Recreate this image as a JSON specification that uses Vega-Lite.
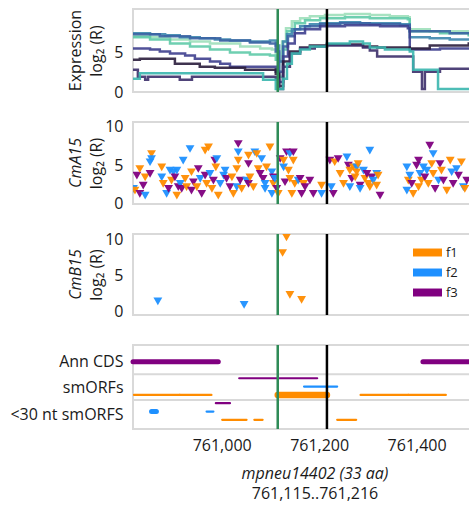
{
  "$schema": "https://vega.github.io/schema/vega-lite/v6.json",
  "padding": {"left": 8, "top": 6, "right": 0, "bottom": 4},
  "spacing": 30,
  "bounds": "flush",
  "config": {
    "font": "Open Sans",
    "view": {"stroke": "#d9d9d9", "strokeWidth": 2},
    "axis": {"grid": false, "ticks": false, "domain": false, "labelFontSize": 16, "labelColor": "#1a1a1a", "titleFontSize": 16, "titleFontWeight": "normal", "titleColor": "#1a1a1a", "labelPadding": 10, "labelFlush": false},
    "title": {"fontSize": 16, "fontWeight": "normal", "color": "#1a1a1a", "subtitleFontSize": 16, "subtitleColor": "#1a1a1a"}
  },
  "resolve": {"scale": {"x": "independent", "y": "independent", "color": "independent"}, "legend": {"color": "independent"}},
  "datasets": {
    "markers": [{"pos": 761115, "edge": "start"}, {"pos": 761216, "edge": "end"}],
    "expr": [
      {"series": "s1", "pos": 760818, "log2r": 7.11}, {"series": "s1", "pos": 760853, "log2r": 6.98}, {"series": "s1", "pos": 760894, "log2r": 6.72}, {"series": "s1", "pos": 760935, "log2r": 6.46}, {"series": "s1", "pos": 760976, "log2r": 6.2}, {"series": "s1", "pos": 761038, "log2r": 5.81}, {"series": "s1", "pos": 761079, "log2r": 5.56}, {"series": "s1", "pos": 761103, "log2r": 5.43}, {"series": "s1", "pos": 761111, "log2r": 4.91}, {"series": "s1", "pos": 761118, "log2r": 3.88}, {"series": "s1", "pos": 761124, "log2r": 6.46}, {"series": "s1", "pos": 761132, "log2r": 8.14}, {"series": "s1", "pos": 761144, "log2r": 9.04}, {"series": "s1", "pos": 761161, "log2r": 9.43}, {"series": "s1", "pos": 761181, "log2r": 9.69}, {"series": "s1", "pos": 761212, "log2r": 9.82}, {"series": "s1", "pos": 761253, "log2r": 9.95}, {"series": "s1", "pos": 761304, "log2r": 9.82}, {"series": "s1", "pos": 761345, "log2r": 9.69}, {"series": "s1", "pos": 761382, "log2r": 9.56}, {"series": "s1", "pos": 761386, "log2r": 8.01}, {"series": "s1", "pos": 761427, "log2r": 7.75}, {"series": "s1", "pos": 761507, "log2r": 7.36}, {"series": "s1", "pos": 761565, "log2r": 7.36},
      {"series": "s2", "pos": 760818, "log2r": 6.98}, {"series": "s2", "pos": 760853, "log2r": 6.72}, {"series": "s2", "pos": 760894, "log2r": 6.2}, {"series": "s2", "pos": 760935, "log2r": 5.81}, {"series": "s2", "pos": 760976, "log2r": 5.43}, {"series": "s2", "pos": 761017, "log2r": 5.04}, {"series": "s2", "pos": 761058, "log2r": 4.78}, {"series": "s2", "pos": 761099, "log2r": 4.65}, {"series": "s2", "pos": 761111, "log2r": 4.13}, {"series": "s2", "pos": 761118, "log2r": 1.94}, {"series": "s2", "pos": 761126, "log2r": 5.43}, {"series": "s2", "pos": 761134, "log2r": 7.75}, {"series": "s2", "pos": 761150, "log2r": 8.79}, {"series": "s2", "pos": 761171, "log2r": 9.17}, {"series": "s2", "pos": 761202, "log2r": 9.43}, {"series": "s2", "pos": 761253, "log2r": 9.56}, {"series": "s2", "pos": 761304, "log2r": 9.43}, {"series": "s2", "pos": 761382, "log2r": 9.3}, {"series": "s2", "pos": 761386, "log2r": 7.75}, {"series": "s2", "pos": 761448, "log2r": 7.49}, {"series": "s2", "pos": 761507, "log2r": 7.24}, {"series": "s2", "pos": 761565, "log2r": 7.24},
      {"series": "s3", "pos": 760818, "log2r": 7.49}, {"series": "s3", "pos": 760853, "log2r": 7.36}, {"series": "s3", "pos": 760884, "log2r": 7.24}, {"series": "s3", "pos": 760914, "log2r": 6.98}, {"series": "s3", "pos": 760955, "log2r": 6.85}, {"series": "s3", "pos": 760986, "log2r": 6.72}, {"series": "s3", "pos": 761017, "log2r": 6.59}, {"series": "s3", "pos": 761058, "log2r": 6.46}, {"series": "s3", "pos": 761099, "log2r": 6.59}, {"series": "s3", "pos": 761111, "log2r": 5.94}, {"series": "s3", "pos": 761118, "log2r": 3.88}, {"series": "s3", "pos": 761126, "log2r": 6.46}, {"series": "s3", "pos": 761134, "log2r": 7.36}, {"series": "s3", "pos": 761144, "log2r": 8.01}, {"series": "s3", "pos": 761161, "log2r": 8.4}, {"series": "s3", "pos": 761181, "log2r": 8.66}, {"series": "s3", "pos": 761202, "log2r": 8.79}, {"series": "s3", "pos": 761243, "log2r": 8.91}, {"series": "s3", "pos": 761284, "log2r": 8.79}, {"series": "s3", "pos": 761366, "log2r": 8.66}, {"series": "s3", "pos": 761386, "log2r": 6.98}, {"series": "s3", "pos": 761427, "log2r": 6.85}, {"series": "s3", "pos": 761468, "log2r": 6.72}, {"series": "s3", "pos": 761565, "log2r": 6.72},
      {"series": "s4", "pos": 760818, "log2r": 7.36}, {"series": "s4", "pos": 760873, "log2r": 7.11}, {"series": "s4", "pos": 760935, "log2r": 6.85}, {"series": "s4", "pos": 760997, "log2r": 6.59}, {"series": "s4", "pos": 761058, "log2r": 6.33}, {"series": "s4", "pos": 761099, "log2r": 6.2}, {"series": "s4", "pos": 761111, "log2r": 5.17}, {"series": "s4", "pos": 761118, "log2r": 2.58}, {"series": "s4", "pos": 761126, "log2r": 5.81}, {"series": "s4", "pos": 761136, "log2r": 7.11}, {"series": "s4", "pos": 761150, "log2r": 8.01}, {"series": "s4", "pos": 761171, "log2r": 8.4}, {"series": "s4", "pos": 761202, "log2r": 8.66}, {"series": "s4", "pos": 761243, "log2r": 8.79}, {"series": "s4", "pos": 761304, "log2r": 8.66}, {"series": "s4", "pos": 761366, "log2r": 8.53}, {"series": "s4", "pos": 761386, "log2r": 7.75}, {"series": "s4", "pos": 761468, "log2r": 7.49}, {"series": "s4", "pos": 761565, "log2r": 7.49},
      {"series": "s5", "pos": 760818, "log2r": 5.56}, {"series": "s5", "pos": 760853, "log2r": 5.43}, {"series": "s5", "pos": 760873, "log2r": 5.17}, {"series": "s5", "pos": 760894, "log2r": 4.91}, {"series": "s5", "pos": 760925, "log2r": 4.65}, {"series": "s5", "pos": 760945, "log2r": 4.26}, {"series": "s5", "pos": 760976, "log2r": 3.88}, {"series": "s5", "pos": 760997, "log2r": 3.62}, {"series": "s5", "pos": 761017, "log2r": 3.23}, {"series": "s5", "pos": 761099, "log2r": 3.23}, {"series": "s5", "pos": 761111, "log2r": 2.58}, {"series": "s5", "pos": 761118, "log2r": 1.29}, {"series": "s5", "pos": 761126, "log2r": 4.52}, {"series": "s5", "pos": 761136, "log2r": 6.2}, {"series": "s5", "pos": 761150, "log2r": 7.49}, {"series": "s5", "pos": 761171, "log2r": 8.01}, {"series": "s5", "pos": 761202, "log2r": 8.4}, {"series": "s5", "pos": 761253, "log2r": 8.53}, {"series": "s5", "pos": 761325, "log2r": 8.4}, {"series": "s5", "pos": 761382, "log2r": 8.14}, {"series": "s5", "pos": 761386, "log2r": 5.43}, {"series": "s5", "pos": 761448, "log2r": 5.56}, {"series": "s5", "pos": 761565, "log2r": 5.56},
      {"series": "s6", "pos": 760818, "log2r": 4.13}, {"series": "s6", "pos": 760832, "log2r": 4.26}, {"series": "s6", "pos": 760904, "log2r": 3.62}, {"series": "s6", "pos": 760955, "log2r": 3.23}, {"series": "s6", "pos": 760986, "log2r": 3.1}, {"series": "s6", "pos": 761048, "log2r": 2.84}, {"series": "s6", "pos": 761099, "log2r": 2.84}, {"series": "s6", "pos": 761111, "log2r": 2.33}, {"series": "s6", "pos": 761118, "log2r": 0.78}, {"series": "s6", "pos": 761126, "log2r": 3.88}, {"series": "s6", "pos": 761140, "log2r": 5.17}, {"series": "s6", "pos": 761161, "log2r": 5.68}, {"series": "s6", "pos": 761181, "log2r": 5.94}, {"series": "s6", "pos": 761216, "log2r": 6.07}, {"series": "s6", "pos": 761263, "log2r": 6.07}, {"series": "s6", "pos": 761290, "log2r": 5.81}, {"series": "s6", "pos": 761319, "log2r": 5.68}, {"series": "s6", "pos": 761386, "log2r": 5.56}, {"series": "s6", "pos": 761427, "log2r": 5.94}, {"series": "s6", "pos": 761507, "log2r": 6.2}, {"series": "s6", "pos": 761565, "log2r": 6.2},
      {"series": "s7", "pos": 760818, "log2r": 2.84}, {"series": "s7", "pos": 760828, "log2r": 1.94}, {"series": "s7", "pos": 760843, "log2r": 1.55}, {"series": "s7", "pos": 760849, "log2r": 1.94}, {"series": "s7", "pos": 760914, "log2r": 1.55}, {"series": "s7", "pos": 760939, "log2r": 1.94}, {"series": "s7", "pos": 761079, "log2r": 1.94}, {"series": "s7", "pos": 761111, "log2r": 1.55}, {"series": "s7", "pos": 761118, "log2r": 0.39}, {"series": "s7", "pos": 761126, "log2r": 3.23}, {"series": "s7", "pos": 761140, "log2r": 4.91}, {"series": "s7", "pos": 761161, "log2r": 5.56}, {"series": "s7", "pos": 761191, "log2r": 5.81}, {"series": "s7", "pos": 761216, "log2r": 5.94}, {"series": "s7", "pos": 761263, "log2r": 5.94}, {"series": "s7", "pos": 761290, "log2r": 5.68}, {"series": "s7", "pos": 761304, "log2r": 5.3}, {"series": "s7", "pos": 761319, "log2r": 4.52}, {"series": "s7", "pos": 761386, "log2r": 4.52}, {"series": "s7", "pos": 761393, "log2r": 2.58}, {"series": "s7", "pos": 761411, "log2r": 0.39}, {"series": "s7", "pos": 761417, "log2r": 2.58}, {"series": "s7", "pos": 761448, "log2r": 2.97}, {"series": "s7", "pos": 761565, "log2r": 2.97},
      {"series": "s8", "pos": 760818, "log2r": 1.68}, {"series": "s8", "pos": 760832, "log2r": 2.4}, {"series": "s8", "pos": 761085, "log2r": 1.55}, {"series": "s8", "pos": 761111, "log2r": 0.39}, {"series": "s8", "pos": 761126, "log2r": 1.68}, {"series": "s8", "pos": 761134, "log2r": 3.62}, {"series": "s8", "pos": 761144, "log2r": 4.91}, {"series": "s8", "pos": 761161, "log2r": 5.43}, {"series": "s8", "pos": 761181, "log2r": 5.81}, {"series": "s8", "pos": 761216, "log2r": 6.2}, {"series": "s8", "pos": 761263, "log2r": 6.46}, {"series": "s8", "pos": 761290, "log2r": 6.2}, {"series": "s8", "pos": 761304, "log2r": 5.68}, {"series": "s8", "pos": 761335, "log2r": 5.43}, {"series": "s8", "pos": 761386, "log2r": 5.17}, {"series": "s8", "pos": 761393, "log2r": 2.84}, {"series": "s8", "pos": 761444, "log2r": 0.39}, {"series": "s8", "pos": 761565, "log2r": 0.39}
    ],
    "cma15": [
      {"pos": 760819, "log2r": 1.88, "frame": "f2"}, {"pos": 760822, "log2r": 1.66, "frame": "f1"}, {"pos": 760826, "log2r": 3.62, "frame": "f3"}, {"pos": 760832, "log2r": 4.49, "frame": "f1"}, {"pos": 760832, "log2r": 1.22, "frame": "f3"}, {"pos": 760839, "log2r": 2.31, "frame": "f3"}, {"pos": 760843, "log2r": 3.4, "frame": "f1"}, {"pos": 760843, "log2r": 1.0, "frame": "f2"}, {"pos": 760853, "log2r": 3.84, "frame": "f3"}, {"pos": 760856, "log2r": 6.46, "frame": "f1"}, {"pos": 760856, "log2r": 5.8, "frame": "f2"}, {"pos": 760853, "log2r": 5.37, "frame": "f2"}, {"pos": 760877, "log2r": 4.71, "frame": "f1"}, {"pos": 760877, "log2r": 3.4, "frame": "f2"}, {"pos": 760880, "log2r": 2.53, "frame": "f1"}, {"pos": 760887, "log2r": 1.22, "frame": "f2"}, {"pos": 760891, "log2r": 1.88, "frame": "f3"}, {"pos": 760894, "log2r": 4.28, "frame": "f2"}, {"pos": 760897, "log2r": 2.97, "frame": "f1"}, {"pos": 760901, "log2r": 4.06, "frame": "f2"}, {"pos": 760904, "log2r": 3.4, "frame": "f3"}, {"pos": 760908, "log2r": 4.28, "frame": "f2"}, {"pos": 760911, "log2r": 2.12, "frame": "f3"}, {"pos": 760908, "log2r": 1.0, "frame": "f1"}, {"pos": 760915, "log2r": 2.53, "frame": "f2"}, {"pos": 760918, "log2r": 1.88, "frame": "f3"}, {"pos": 760921, "log2r": 5.58, "frame": "f2"}, {"pos": 760925, "log2r": 3.19, "frame": "f1"}, {"pos": 760928, "log2r": 2.12, "frame": "f1"}, {"pos": 760935, "log2r": 7.11, "frame": "f2"}, {"pos": 760938, "log2r": 4.06, "frame": "f1"}, {"pos": 760938, "log2r": 1.66, "frame": "f3"}, {"pos": 760942, "log2r": 2.75, "frame": "f3"}, {"pos": 760949, "log2r": 2.12, "frame": "f1"}, {"pos": 760952, "log2r": 4.49, "frame": "f3"}, {"pos": 760956, "log2r": 3.19, "frame": "f2"}, {"pos": 760959, "log2r": 1.22, "frame": "f3"}, {"pos": 760966, "log2r": 6.89, "frame": "f1"}, {"pos": 760973, "log2r": 7.33, "frame": "f1"}, {"pos": 760966, "log2r": 3.62, "frame": "f3"}, {"pos": 760969, "log2r": 2.53, "frame": "f1"}, {"pos": 760976, "log2r": 3.84, "frame": "f2"}, {"pos": 760980, "log2r": 1.88, "frame": "f1"}, {"pos": 760983, "log2r": 2.97, "frame": "f3"}, {"pos": 760986, "log2r": 5.58, "frame": "f3"}, {"pos": 760990, "log2r": 5.8, "frame": "f2"}, {"pos": 760988, "log2r": 4.71, "frame": "f1"}, {"pos": 760993, "log2r": 1.0, "frame": "f1"}, {"pos": 760997, "log2r": 2.53, "frame": "f2"}, {"pos": 761004, "log2r": 3.62, "frame": "f2"}, {"pos": 761007, "log2r": 4.28, "frame": "f2"}, {"pos": 761010, "log2r": 3.19, "frame": "f3"}, {"pos": 761017, "log2r": 2.12, "frame": "f3"}, {"pos": 761021, "log2r": 3.4, "frame": "f1"}, {"pos": 761024, "log2r": 1.22, "frame": "f1"}, {"pos": 761031, "log2r": 4.49, "frame": "f1"}, {"pos": 761031, "log2r": 2.12, "frame": "f2"}, {"pos": 761034, "log2r": 7.77, "frame": "f3"}, {"pos": 761034, "log2r": 6.68, "frame": "f2"}, {"pos": 761034, "log2r": 5.58, "frame": "f1"}, {"pos": 761038, "log2r": 2.97, "frame": "f3"}, {"pos": 761041, "log2r": 1.88, "frame": "f1"},
      {"pos": 761055, "log2r": 6.24, "frame": "f1"}, {"pos": 761055, "log2r": 5.15, "frame": "f3"}, {"pos": 761051, "log2r": 2.97, "frame": "f2"}, {"pos": 761055, "log2r": 2.53, "frame": "f3"}, {"pos": 761058, "log2r": 3.4, "frame": "f1"}, {"pos": 761068, "log2r": 6.68, "frame": "f2"}, {"pos": 761072, "log2r": 6.46, "frame": "f1"}, {"pos": 761065, "log2r": 2.12, "frame": "f1"}, {"pos": 761075, "log2r": 4.49, "frame": "f1"}, {"pos": 761079, "log2r": 3.84, "frame": "f3"}, {"pos": 761082, "log2r": 5.8, "frame": "f2"}, {"pos": 761085, "log2r": 3.19, "frame": "f3"}, {"pos": 761089, "log2r": 2.53, "frame": "f2"}, {"pos": 761089, "log2r": 1.88, "frame": "f2"}, {"pos": 761092, "log2r": 4.71, "frame": "f1"}, {"pos": 761099, "log2r": 7.33, "frame": "f1"}, {"pos": 761103, "log2r": 1.22, "frame": "f2"}, {"pos": 761103, "log2r": 4.06, "frame": "f2"}, {"pos": 761106, "log2r": 2.53, "frame": "f1"}, {"pos": 761106, "log2r": 3.4, "frame": "f3"}, {"pos": 761109, "log2r": 3.19, "frame": "f2"}, {"pos": 761113, "log2r": 1.88, "frame": "f3"}, {"pos": 761116, "log2r": 1.22, "frame": "f1"}, {"pos": 761120, "log2r": 5.8, "frame": "f3"}, {"pos": 761127, "log2r": 4.71, "frame": "f2"}, {"pos": 761127, "log2r": 5.58, "frame": "f1"}, {"pos": 761130, "log2r": 2.75, "frame": "f3"}, {"pos": 761133, "log2r": 6.68, "frame": "f3"}, {"pos": 761140, "log2r": 6.46, "frame": "f2"}, {"pos": 761137, "log2r": 4.28, "frame": "f1"}, {"pos": 761140, "log2r": 3.19, "frame": "f1"}, {"pos": 761144, "log2r": 1.22, "frame": "f1"}, {"pos": 761147, "log2r": 6.68, "frame": "f3"}, {"pos": 761147, "log2r": 5.58, "frame": "f1"}, {"pos": 761150, "log2r": 2.53, "frame": "f1"}, {"pos": 761157, "log2r": 2.97, "frame": "f2"}, {"pos": 761161, "log2r": 3.19, "frame": "f3"}, {"pos": 761164, "log2r": 1.22, "frame": "f3"}, {"pos": 761168, "log2r": 2.53, "frame": "f1"}, {"pos": 761171, "log2r": 2.12, "frame": "f3"}, {"pos": 761181, "log2r": 2.97, "frame": "f3"}, {"pos": 761188, "log2r": 1.22, "frame": "f3"}, {"pos": 761205, "log2r": 2.31, "frame": "f1"}, {"pos": 761205, "log2r": 1.22, "frame": "f2"}, {"pos": 761222, "log2r": 5.58, "frame": "f3"}, {"pos": 761229, "log2r": 1.22, "frame": "f3"}, {"pos": 761225, "log2r": 2.12, "frame": "f2"}, {"pos": 761232, "log2r": 5.37, "frame": "f1"}, {"pos": 761239, "log2r": 5.8, "frame": "f3"}, {"pos": 761243, "log2r": 3.84, "frame": "f1"}, {"pos": 761250, "log2r": 2.53, "frame": "f1"}, {"pos": 761257, "log2r": 6.02, "frame": "f2"}, {"pos": 761260, "log2r": 4.93, "frame": "f3"}, {"pos": 761263, "log2r": 4.28, "frame": "f1"}, {"pos": 761267, "log2r": 3.19, "frame": "f3"}, {"pos": 761263, "log2r": 2.12, "frame": "f2"}, {"pos": 761270, "log2r": 4.71, "frame": "f1"},
      {"pos": 761274, "log2r": 3.4, "frame": "f1"}, {"pos": 761277, "log2r": 4.71, "frame": "f2"}, {"pos": 761277, "log2r": 4.06, "frame": "f1"}, {"pos": 761280, "log2r": 5.15, "frame": "f1"}, {"pos": 761284, "log2r": 2.31, "frame": "f3"}, {"pos": 761284, "log2r": 1.88, "frame": "f2"}, {"pos": 761291, "log2r": 4.28, "frame": "f2"}, {"pos": 761294, "log2r": 3.19, "frame": "f1"}, {"pos": 761298, "log2r": 3.84, "frame": "f3"}, {"pos": 761301, "log2r": 2.53, "frame": "f1"}, {"pos": 761304, "log2r": 6.89, "frame": "f2"}, {"pos": 761304, "log2r": 2.12, "frame": "f1"}, {"pos": 761308, "log2r": 3.4, "frame": "f3"}, {"pos": 761311, "log2r": 2.97, "frame": "f2"}, {"pos": 761318, "log2r": 3.84, "frame": "f2"}, {"pos": 761318, "log2r": 2.31, "frame": "f1"}, {"pos": 761325, "log2r": 1.0, "frame": "f3"}, {"pos": 761321, "log2r": 3.62, "frame": "f1"}, {"pos": 761380, "log2r": 4.71, "frame": "f2"}, {"pos": 761380, "log2r": 1.66, "frame": "f2"}, {"pos": 761383, "log2r": 2.97, "frame": "f1"}, {"pos": 761386, "log2r": 3.62, "frame": "f2"}, {"pos": 761390, "log2r": 2.53, "frame": "f3"}, {"pos": 761393, "log2r": 1.22, "frame": "f1"}, {"pos": 761400, "log2r": 4.93, "frame": "f3"}, {"pos": 761404, "log2r": 5.58, "frame": "f3"}, {"pos": 761404, "log2r": 2.12, "frame": "f1"}, {"pos": 761407, "log2r": 3.84, "frame": "f2"}, {"pos": 761410, "log2r": 2.97, "frame": "f1"}, {"pos": 761414, "log2r": 4.71, "frame": "f2"}, {"pos": 761417, "log2r": 3.4, "frame": "f3"}, {"pos": 761421, "log2r": 4.28, "frame": "f2"}, {"pos": 761424, "log2r": 2.53, "frame": "f1"}, {"pos": 761427, "log2r": 7.55, "frame": "f3"}, {"pos": 761431, "log2r": 5.15, "frame": "f1"}, {"pos": 761434, "log2r": 6.46, "frame": "f2"}, {"pos": 761434, "log2r": 3.84, "frame": "f1"}, {"pos": 761438, "log2r": 1.88, "frame": "f3"}, {"pos": 761445, "log2r": 2.97, "frame": "f2"}, {"pos": 761448, "log2r": 5.15, "frame": "f3"}, {"pos": 761451, "log2r": 4.28, "frame": "f1"}, {"pos": 761455, "log2r": 2.97, "frame": "f3"}, {"pos": 761462, "log2r": 1.66, "frame": "f1"}, {"pos": 761469, "log2r": 5.58, "frame": "f1"}, {"pos": 761472, "log2r": 4.06, "frame": "f2"}, {"pos": 761475, "log2r": 2.53, "frame": "f3"}, {"pos": 761482, "log2r": 4.49, "frame": "f2"}, {"pos": 761486, "log2r": 3.62, "frame": "f3"}, {"pos": 761492, "log2r": 5.37, "frame": "f1"}, {"pos": 761496, "log2r": 2.12, "frame": "f2"}, {"pos": 761499, "log2r": 1.88, "frame": "f1"}, {"pos": 761503, "log2r": 2.97, "frame": "f3"}
    ],
    "cmb15": [
      {"pos": 760869, "log2r": 1.38, "frame": "f2"}, {"pos": 761046, "log2r": 0.91, "frame": "f2"}, {"pos": 761133, "log2r": 10.23, "frame": "f1"}, {"pos": 761125, "log2r": 8.07, "frame": "f1"}, {"pos": 761140, "log2r": 2.29, "frame": "f1"}, {"pos": 761164, "log2r": 1.6, "frame": "f1"}
    ],
    "tracks": [
      {"track": "Ann CDS", "frame": "f3", "lane": 8, "start": 760818, "end": 760993, "kind": "cds"},
      {"track": "Ann CDS", "frame": "f3", "lane": 8, "start": 761413, "end": 761565, "kind": "cds"},
      {"track": "smORFs", "frame": "f3", "lane": 6, "start": 761036, "end": 761196, "kind": "orf"},
      {"track": "smORFs", "frame": "f2", "lane": 5, "start": 761169, "end": 761237, "kind": "orf"},
      {"track": "smORFs", "frame": "f1", "lane": 4, "start": 760820, "end": 760914, "kind": "orf"},
      {"track": "smORFs", "frame": "f1", "lane": 4, "start": 760914, "end": 760979, "kind": "orf"},
      {"track": "smORFs", "frame": "f1", "lane": 4, "start": 761115, "end": 761216, "kind": "focus"},
      {"track": "smORFs", "frame": "f1", "lane": 4, "start": 761285, "end": 761383, "kind": "orf"},
      {"track": "smORFs", "frame": "f1", "lane": 4, "start": 761383, "end": 761460, "kind": "orf"},
      {"track": "<30 nt smORFs", "frame": "f3", "lane": 3, "start": 760988, "end": 761017, "kind": "orf"},
      {"track": "<30 nt smORFs", "frame": "f2", "lane": 2, "start": 760856, "end": 760866, "kind": "dot"},
      {"track": "<30 nt smORFs", "frame": "f2", "lane": 2, "start": 760969, "end": 760983, "kind": "orf"},
      {"track": "<30 nt smORFs", "frame": "f1", "lane": 1, "start": 761001, "end": 761051, "kind": "orf"},
      {"track": "<30 nt smORFs", "frame": "f1", "lane": 1, "start": 761067, "end": 761084, "kind": "orf"},
      {"track": "<30 nt smORFs", "frame": "f1", "lane": 1, "start": 761237, "end": 761276, "kind": "orf"}
    ]
  },
  "vconcat": [
    {
      "width": 364, "height": 83,
      "title": {"text": "Expression", "orient": "left", "anchor": "middle", "offset": 4},
      "layer": [
        {
          "data": {"name": "expr"},
          "mark": {"type": "line", "interpolate": "step-after", "strokeWidth": 2.5, "opacity": 0.9, "clip": true},
          "encoding": {
            "x": {"field": "pos", "type": "quantitative", "scale": {"domain": [760818, 761565], "nice": false, "zero": false}, "axis": null},
            "y": {"field": "log2r", "type": "quantitative", "scale": {"domain": [0, 10.6], "nice": false, "zero": false}, "axis": {"values": [0, 5], "title": "log₂ (R)", "titleX": -29}},
            "color": {"field": "series", "type": "nominal", "scale": {"domain": ["s1", "s2", "s3", "s4", "s5", "s6", "s7", "s8"], "range": ["#9ddfba", "#5fcaa9", "#3b86ad", "#3b63a3", "#3e3f8e", "#2a1d3c", "#3c2f6a", "#3ab6ae"]}, "legend": null}
          }
        },
        {
          "data": {"name": "markers"},
          "transform": [{"filter": "datum.edge == 'start'"}],
          "mark": {"type": "rule", "color": "#2e8b57", "strokeWidth": 2.5},
          "encoding": {"x": {"field": "pos", "type": "quantitative", "axis": null}}
        },
        {
          "data": {"name": "markers"},
          "transform": [{"filter": "datum.edge == 'end'"}],
          "mark": {"type": "rule", "color": "#000000", "strokeWidth": 2.5},
          "encoding": {"x": {"field": "pos", "type": "quantitative", "axis": null}}
        }
      ]
    },
    {
      "width": 364, "height": 82,
      "title": {"text": "CmA15", "orient": "left", "anchor": "middle", "fontStyle": "italic", "offset": 4},
      "layer": [
        {
          "data": {"name": "cma15"},
          "mark": {"type": "point", "shape": "triangle-down", "filled": true, "size": 78, "opacity": 0.95, "clip": true},
          "encoding": {
            "x": {"field": "pos", "type": "quantitative", "scale": {"domain": [760818, 761565], "nice": false, "zero": false}, "axis": null},
            "y": {"field": "log2r", "type": "quantitative", "scale": {"domain": [-0.1, 10.65], "nice": false, "zero": false}, "axis": {"values": [0, 5, 10], "title": "log₂ (R)", "titleX": -29}},
            "color": {"field": "frame", "type": "nominal", "scale": {"domain": ["f1", "f2", "f3"], "range": ["#ff8c00", "#1e90ff", "#800080"]}, "legend": null}
          }
        },
        {
          "data": {"name": "markers"},
          "transform": [{"filter": "datum.edge == 'start'"}],
          "mark": {"type": "rule", "color": "#2e8b57", "strokeWidth": 2.5},
          "encoding": {"x": {"field": "pos", "type": "quantitative", "axis": null}}
        },
        {
          "data": {"name": "markers"},
          "transform": [{"filter": "datum.edge == 'end'"}],
          "mark": {"type": "rule", "color": "#000000", "strokeWidth": 2.5},
          "encoding": {"x": {"field": "pos", "type": "quantitative", "axis": null}}
        }
      ]
    },
    {
      "width": 364, "height": 81,
      "title": {"text": "CmB15", "orient": "left", "anchor": "middle", "fontStyle": "italic", "offset": 4},
      "layer": [
        {
          "data": {"name": "cmb15"},
          "mark": {"type": "point", "shape": "triangle-down", "filled": true, "size": 78, "opacity": 0.95, "clip": true},
          "encoding": {
            "x": {"field": "pos", "type": "quantitative", "scale": {"domain": [760818, 761565], "nice": false, "zero": false}, "axis": null},
            "y": {"field": "log2r", "type": "quantitative", "scale": {"domain": [-0.5, 10.7], "nice": false, "zero": false}, "axis": {"values": [0, 5, 10], "title": "log₂ (R)", "titleX": -29}},
            "color": {"field": "frame", "type": "nominal", "scale": {"domain": ["f1", "f2", "f3"], "range": ["#ff8c00", "#1e90ff", "#800080"]},
              "legend": {"orient": "none", "legendX": 287, "legendY": 11, "title": null, "symbolType": "M-2,-0.55H2V0.55H-2Z", "symbolSize": 210, "symbolStrokeWidth": 0, "symbolOpacity": 1, "labelFontSize": 13, "labelColor": "#1a1a1a", "labelOffset": 11, "rowPadding": 5}}
          }
        },
        {
          "data": {"name": "markers"},
          "transform": [{"filter": "datum.edge == 'start'"}],
          "mark": {"type": "rule", "color": "#2e8b57", "strokeWidth": 2.5},
          "encoding": {"x": {"field": "pos", "type": "quantitative", "axis": null}}
        },
        {
          "data": {"name": "markers"},
          "transform": [{"filter": "datum.edge == 'end'"}],
          "mark": {"type": "rule", "color": "#000000", "strokeWidth": 2.5},
          "encoding": {"x": {"field": "pos", "type": "quantitative", "axis": null}}
        }
      ]
    },
    {
      "width": 364, "height": 84,
      "title": {"text": "mpneu14402 (33 aa)", "subtitle": "761,115..761,216", "orient": "bottom", "anchor": "middle", "frame": "group", "fontStyle": "italic", "offset": 13, "subtitlePadding": 4},
      "encoding": {
        "x": {"type": "quantitative", "scale": {"domain": [760818, 761565], "nice": false, "zero": false}, "axis": {"values": [761000, 761200, 761400], "title": null, "format": ",d", "labelPadding": 8}}
      },
      "layer": [
        {
          "data": {"values": [{}]},
          "mark": {"type": "rule", "color": "#d9d9d9", "strokeWidth": 2},
          "encoding": {"x": null, "y": {"datum": 3.38, "type": "quantitative"}}
        },
        {
          "data": {"values": [{}]},
          "mark": {"type": "rule", "color": "#d9d9d9", "strokeWidth": 2},
          "encoding": {"x": null, "y": {"datum": 6.47, "type": "quantitative"}}
        },
        {
          "data": {"name": "tracks"},
          "transform": [{"filter": "datum.kind == 'orf'"}],
          "mark": {"type": "rule", "strokeCap": "round", "strokeWidth": 2.2},
          "encoding": {
            "x": {"field": "start", "type": "quantitative"},
            "x2": {"field": "end"},
            "y": {"field": "lane", "type": "quantitative", "scale": {"domain": [-0.1, 10], "nice": false, "zero": false}, "axis": {"values": [8, 4.92, 1.68], "title": null, "labelExpr": "datum.value > 6 ? 'Ann CDS' : datum.value > 3 ? 'smORFs' : '<30 nt smORFS'"}},
            "color": {"field": "frame", "type": "nominal", "scale": {"domain": ["f1", "f2", "f3"], "range": ["#ff8c00", "#1e90ff", "#800080"]}, "legend": null}
          }
        },
        {
          "data": {"name": "tracks"},
          "transform": [{"filter": "datum.kind == 'cds' || datum.kind == 'dot'"}],
          "mark": {"type": "rule", "strokeCap": "round", "strokeWidth": 5},
          "encoding": {
            "x": {"field": "start", "type": "quantitative"},
            "x2": {"field": "end"},
            "y": {"field": "lane", "type": "quantitative"},
            "color": {"field": "frame", "type": "nominal", "legend": null}
          }
        },
        {
          "data": {"name": "tracks"},
          "transform": [{"filter": "datum.kind == 'focus'"}],
          "mark": {"type": "rule", "strokeCap": "round", "strokeWidth": 6.5},
          "encoding": {
            "x": {"field": "start", "type": "quantitative"},
            "x2": {"field": "end"},
            "y": {"field": "lane", "type": "quantitative"},
            "color": {"field": "frame", "type": "nominal", "legend": null}
          }
        },
        {
          "data": {"name": "markers"},
          "transform": [{"filter": "datum.edge == 'start'"}],
          "mark": {"type": "rule", "color": "#2e8b57", "strokeWidth": 2.5},
          "encoding": {"x": {"field": "pos", "type": "quantitative"}}
        },
        {
          "data": {"name": "markers"},
          "transform": [{"filter": "datum.edge == 'end'"}],
          "mark": {"type": "rule", "color": "#000000", "strokeWidth": 2.5},
          "encoding": {"x": {"field": "pos", "type": "quantitative"}}
        }
      ]
    }
  ]
}
